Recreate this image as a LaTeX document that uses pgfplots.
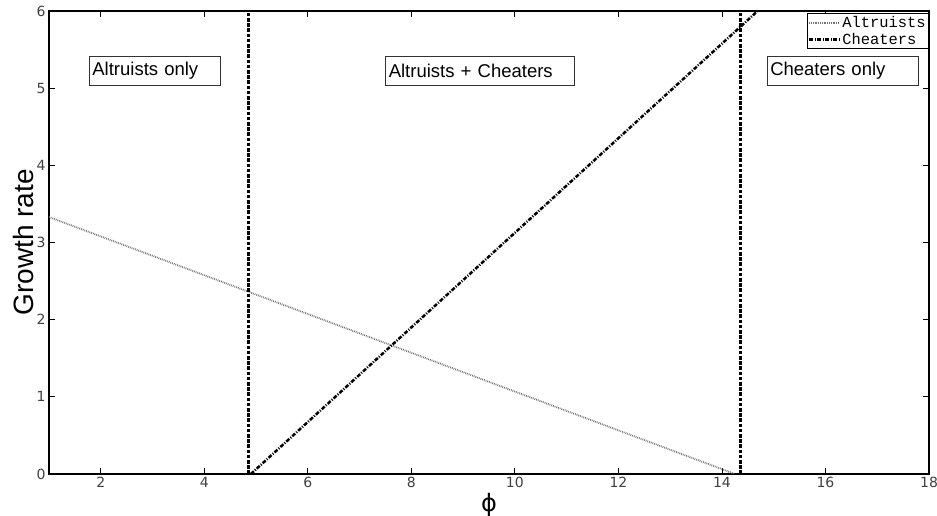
\documentclass[border=0pt]{standalone}
\usepackage{pgfplots}
\pgfplotsset{compat=1.18}
\usepackage{fontspec}
\setmainfont{Liberation Sans}
\newfontfamily\monofont{Liberation Mono}
\newfontfamily\dejavu{DejaVu Sans}
\begin{document}
\begin{tikzpicture}
\begin{axis}[
  width=880pt, height=463pt, scale only axis,
  xmin=1, xmax=18, ymin=0, ymax=6,
  xtick={2,4,...,18}, ytick={0,1,...,6},
  tick align=inside, major tick length=6pt,
  tick style={black, line width=0.8pt},
  axis line style={line width=1.3pt},
  /pgf/number format/assume math mode=true,
  ticklabel style={font=\dejavu\fontsize{14}{14}\selectfont, text=black!75},
  xlabel={\dejavu ϕ},
  ylabel={Growth rate},
  xlabel style={font=\fontsize{24}{24}\selectfont, at={(axis description cs:0.5,0)}, yshift=-31pt, anchor=center},
  ylabel style={font=\fontsize{28}{28}\selectfont, at={(axis description cs:-0.0295,0.5)}, anchor=center},
  legend style={at={(rel axis cs:1,1)}, anchor=north east, yshift=-2pt,
    font=\monofont\fontsize{15.4}{15.4}\selectfont, draw=black, line width=0.8pt,
    inner xsep=1pt, inner ysep=1pt, row sep=0pt, cells={anchor=west}},
  legend image code/.code={\draw[#1] (0pt,0pt) -- (30pt,0pt);},
]
\addplot[black!55, line width=1.8pt, dash pattern=on 0.8pt off 1pt] coordinates {(1,3.33) (14.25,0)};
\addlegendentry{Altruists}
\addplot[black, line width=2.5pt, dash pattern=on 4pt off 1.5pt on 1pt off 1.5pt] coordinates {(4.9,0) (14.69,6)};
\addlegendentry{Cheaters}
\addplot[black, line width=3pt, dash pattern=on 3.5pt off 1.7pt, forget plot] coordinates {(4.85,0) (4.85,6)};
\addplot[black, line width=3pt, dash pattern=on 3.5pt off 1.7pt, forget plot] coordinates {(14.35,0) (14.35,6)};
\node[draw=black!80, line width=0.6pt, anchor=west, text width=125pt, minimum height=29pt, inner xsep=3pt, font=\fontsize{18.5}{18.5}\selectfont] at (axis cs:1.774,5.23) {Altruists only};
\node[draw=black!80, line width=0.6pt, anchor=west, text width=183pt, minimum height=29pt, inner xsep=3pt, font=\fontsize{18.5}{18.5}\selectfont] at (axis cs:7.5,5.23) {Altruists + Cheaters};
\node[draw=black!80, line width=0.6pt, anchor=west, text width=145pt, minimum height=29pt, inner xsep=3pt, font=\fontsize{18.5}{18.5}\selectfont] at (axis cs:14.87,5.23) {Cheaters only};
\end{axis}
\pgfresetboundingbox
\path[use as bounding box] ([xshift=-49pt,yshift=-42pt]current axis.south west) rectangle ([xshift=8pt,yshift=11pt]current axis.north east);
\end{tikzpicture}
\end{document}
